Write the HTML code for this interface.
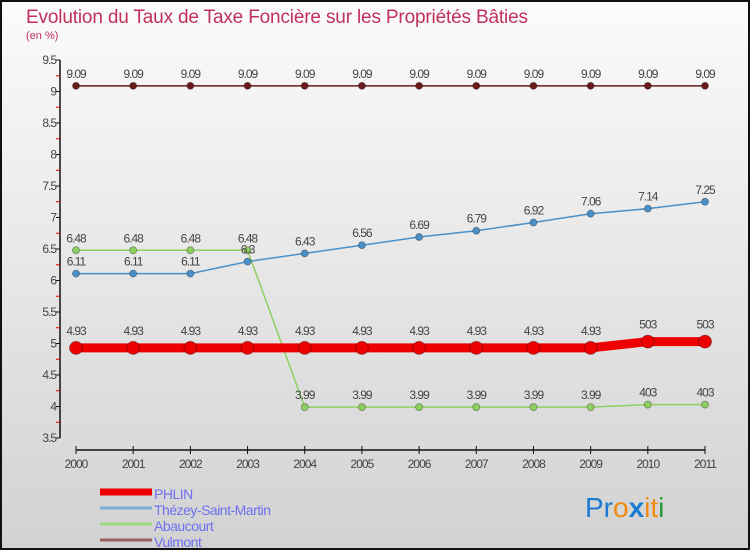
<!DOCTYPE html>
<html><head><meta charset="utf-8"><style>
body{margin:0;width:750px;height:550px;overflow:hidden;font-family:"Liberation Sans",sans-serif}
#c{position:absolute;left:0;top:0;width:746px;height:546px;border:2px solid #111;background:linear-gradient(#fbfbfb,#d2d2d2)}
</style></head><body>
<div id="c"></div>
<svg id="s" width="750" height="550" style="position:absolute;left:0;top:0">
<text x="26" y="23" font-size="19" fill="#c0305a" textLength="502">Evolution du Taux de Taxe Foncière sur les Propriétés Bâties</text>
<text x="26" y="39" font-size="11" fill="#c0305a">(en %)</text>
<g id="ax"></g><g id="plot"></g><g id="leg"></g>
<text x="585" y="517" font-size="28" font-family="Liberation Sans,sans-serif"><tspan fill="#1a7bd0">Pr</tspan><tspan fill="#f08a10">o</tspan><tspan fill="#1a7bd0" font-weight="bold">x</tspan><tspan fill="#f08a10">it</tspan><tspan fill="#2a9a3a">i</tspan></text>
</svg>
<script>
const years=[2000,2001,2002,2003,2004,2005,2006,2007,2008,2009,2010,2011];
const yTicks=[3.5,4,4.5,5,5.5,6,6.5,7,7.5,8,8.5,9,9.5];
const phlin=[4.93,4.93,4.93,4.93,4.93,4.93,4.93,4.93,4.93,4.93,5.03,5.03];
const thezey=[6.11,6.11,6.11,6.3,6.43,6.56,6.69,6.79,6.92,7.06,7.14,7.25];
const abaucourt=[6.48,6.48,6.48,6.48,3.99,3.99,3.99,3.99,3.99,3.99,4.03,4.03];
const vulmont=[9.09,9.09,9.09,9.09,9.09,9.09,9.09,9.09,9.09,9.09,9.09,9.09];
const seriesNames=["PHLIN","Thézey-Saint-Martin","Abaucourt","Vulmont"];
const NS="http://www.w3.org/2000/svg";
const X=i=>76+i*(705-76)/(years.length-1);
const Y=v=>60+(9.5-v)*(438-60)/6;
function mk(t,a,p){const e=document.createElementNS(NS,t);for(const k in a)e.setAttribute(k,a[k]);p.appendChild(e);return e;}
const ax=document.getElementById('ax'),plot=document.getElementById('plot'),leg=document.getElementById('leg');
let yl=mk('line',{x1:60,y1:Y(9.5),x2:60,y2:Y(3.5),stroke:'#111','stroke-width':1.5},ax);


yTicks.forEach((v,i)=>{
 mk('line',{x1:56,x2:60,y1:Y(v),y2:Y(v),stroke:'#111'},ax);
 if(i<yTicks.length-1)mk('line',{x1:56,x2:60,y1:Y(v+0.25),y2:Y(v+0.25),stroke:'#d00'},ax);
 const t=mk('text',{x:56,y:Y(v)+4,'font-size':12,'text-anchor':'end',fill:'#444','letter-spacing':'-1'},ax);t.textContent=v;
 
 
});
let xl=mk('line',{x1:76,y1:450,x2:705,y2:450,stroke:'#111','stroke-width':1.5},ax);


years.forEach((y,i)=>{
 mk('line',{x1:X(i),x2:X(i),y1:446,y2:454,stroke:'#111'},ax);
 const t=mk('text',{x:X(i),y:468,'font-size':12,'text-anchor':'middle',fill:'#444','letter-spacing':'-1'},ax);t.textContent=y;
 
 
});
function series(vals,color,w,r,name,dx){
 const g=mk('g',{},plot);
 
 
 mk('polyline',{points:vals.map((v,i)=>X(i)+','+Y(v)).join(' '),fill:'none',stroke:color,'stroke-width':w},g);
 vals.forEach((v,i)=>{
  const c=mk('circle',{cx:X(i),cy:Y(v),r:r,fill:color,stroke:'rgba(0,0,0,0.3)'},g);
  
  
  const t=mk('text',{x:X(i),y:Y(v)-(dx||8),'font-size':12,'text-anchor':'middle',fill:'#444','letter-spacing':'-1'},g);
  t.textContent=(v===4.03||v===5.03)?String(v).replace('.',''):String(v);
  
  
 });
}
series(vulmont,'#6b1a1a',1.5,3.5,'vulmont-series');
series(abaucourt,'#8ed060',1.5,3.5,'abaucourt-series');
series(thezey,'#4a90c8',1.5,3.5,'thezey-series');
series(phlin,'#ee0000',9,6.5,'phlin-series',13);
const lc=['#ee0000','#7ab0d8','#9ad880','#9a6060'],lw=[7,3,3,3];
seriesNames.forEach((n,i)=>{
 const g=mk('g',{},leg);
 
 
 const yy=496+i*16;
 mk('line',{x1:100,x2:152,y1:yy-4,y2:yy-4,stroke:lc[i],'stroke-width':lw[i]},g);
 const t=mk('text',{x:154,y:yy+3,'font-size':14,fill:'#6f6ff0','letter-spacing':'-0.5'},g);t.textContent=n;
});
</script>
</body></html>
